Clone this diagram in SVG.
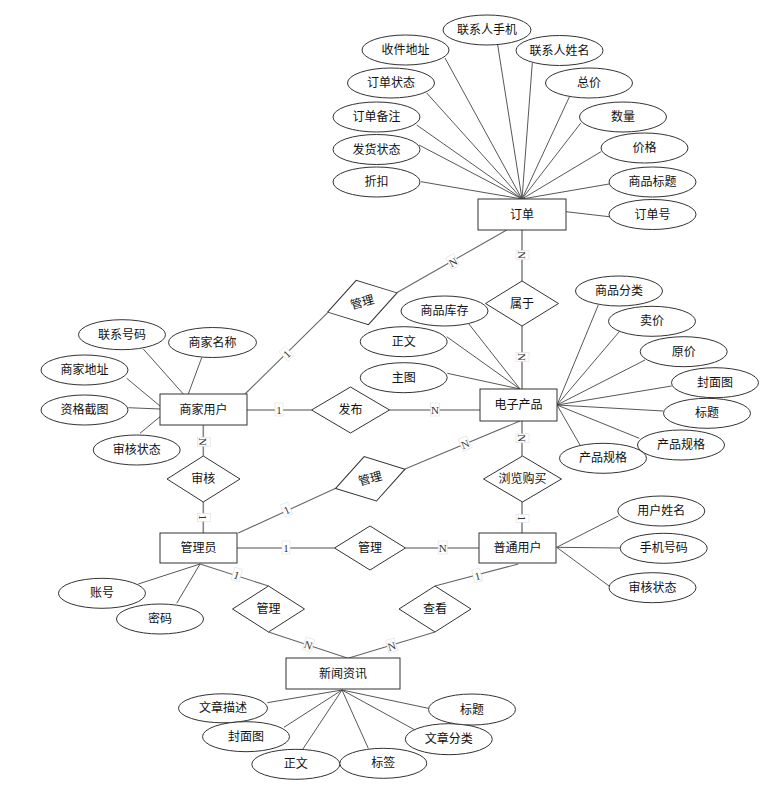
<svg xmlns="http://www.w3.org/2000/svg" width="780" height="793" viewBox="0 0 780 793">
<style>
text{font-family:"Noto Sans CJK SC","Liberation Sans",sans-serif;font-size:12px;fill:#111;text-anchor:middle}
.box{fill:#fff;stroke:#333;stroke-width:1}
.ell{fill:#fff;stroke:#333;stroke-width:1}
.dia{fill:#fff;stroke:#333;stroke-width:1}
.attr line{stroke:#444;stroke-width:0.9}
.rel line{stroke:#666;stroke-width:1.1}
.rel line.hv{stroke:#888;stroke-width:1.6}
.lbl rect{fill:#fff;stroke:#ddd;stroke-width:0.6}
.lbl text{font-family:"Liberation Serif",serif;font-size:11px;fill:#333}
</style>
<rect width="780" height="793" fill="#fff"/>
<g id="connectors">
<g class="attr">
<line x1="445" y1="58" x2="522" y2="199"/>
<line x1="497.7" y1="45" x2="522" y2="199"/>
<line x1="532.3" y1="63" x2="522" y2="199"/>
<line x1="426.7" y1="93" x2="522" y2="199"/>
<line x1="569.3" y1="97" x2="522" y2="199"/>
<line x1="416.7" y1="125" x2="522" y2="199"/>
<line x1="581" y1="122.7" x2="522" y2="199"/>
<line x1="419" y1="145" x2="522" y2="199"/>
<line x1="601" y1="151.7" x2="522" y2="199"/>
<line x1="421" y1="181.7" x2="522" y2="199"/>
<line x1="609" y1="184" x2="522" y2="199"/>
<line x1="566" y1="211.7" x2="609" y2="216.7"/>
<line x1="143.3" y1="349" x2="183.3" y2="394"/>
<line x1="201.7" y1="357.7" x2="188.3" y2="394"/>
<line x1="126.7" y1="378.3" x2="160" y2="406"/>
<line x1="128.3" y1="407.7" x2="160" y2="409"/>
<line x1="140" y1="433.3" x2="160" y2="416.7"/>
<line x1="468.3" y1="323.3" x2="520" y2="389"/>
<line x1="446.7" y1="336.7" x2="520" y2="389"/>
<line x1="447.3" y1="373.3" x2="520" y2="389"/>
<line x1="557" y1="405" x2="598.3" y2="305"/>
<line x1="557" y1="405" x2="620.7" y2="330"/>
<line x1="557" y1="405" x2="645" y2="360"/>
<line x1="557" y1="405" x2="671.7" y2="386"/>
<line x1="557" y1="405" x2="663.3" y2="411"/>
<line x1="557" y1="405" x2="639.3" y2="438.3"/>
<line x1="557" y1="405" x2="580" y2="445"/>
<line x1="200" y1="564" x2="138.3" y2="584"/>
<line x1="200" y1="564" x2="176.7" y2="603.3"/>
<line x1="556.7" y1="547.3" x2="618.3" y2="516"/>
<line x1="556.7" y1="547.3" x2="620" y2="548"/>
<line x1="556.7" y1="547.3" x2="610" y2="586.7"/>
<line x1="342" y1="690" x2="267.3" y2="702.7"/>
<line x1="342" y1="690" x2="284" y2="727.3"/>
<line x1="342" y1="690" x2="302.7" y2="749.3"/>
<line x1="342" y1="690" x2="368.3" y2="748.3"/>
<line x1="342" y1="690" x2="415" y2="730"/>
<line x1="342" y1="690" x2="428.3" y2="708.3"/>
</g>
<g class="rel">
<line x1="506.7" y1="230" x2="396.7" y2="292.7"/>
<line x1="245" y1="394" x2="327.7" y2="312.7"/>
<line class="hv" x1="522" y1="230" x2="522" y2="281"/>
<line class="hv" x1="522" y1="326" x2="522" y2="389"/>
<line class="hv" x1="247" y1="410" x2="311.5" y2="410"/>
<line class="hv" x1="389.5" y1="410" x2="480" y2="410"/>
<line class="hv" x1="203.3" y1="425" x2="203.3" y2="456"/>
<line class="hv" x1="203.3" y1="502" x2="203.3" y2="533"/>
<line x1="238.3" y1="533" x2="335.7" y2="488.3"/>
<line x1="405" y1="469" x2="520" y2="421"/>
<line class="hv" x1="522" y1="421" x2="522" y2="456"/>
<line class="hv" x1="522" y1="502" x2="522" y2="533"/>
<line class="hv" x1="237" y1="548" x2="334.5" y2="548"/>
<line class="hv" x1="405.5" y1="548" x2="479" y2="548"/>
<line x1="200" y1="564" x2="268.5" y2="586"/>
<line x1="518.3" y1="564" x2="435" y2="586"/>
<line x1="268.5" y1="632" x2="348" y2="658.3"/>
<line x1="435" y1="632" x2="348" y2="658.3"/>
</g>
<g class="lbl">
<g transform="translate(453,262) rotate(-29)"><rect x="-4.5" y="-7" width="9" height="13"/><text y="4">N</text></g>
<g transform="translate(286.7,354) rotate(-44)"><rect x="-4" y="-7" width="8" height="13"/><text y="4">1</text></g>
<g transform="translate(522,255) rotate(90)"><rect x="-4.5" y="-7" width="9" height="13"/><text y="4">N</text></g>
<g transform="translate(522,357) rotate(90)"><rect x="-4.5" y="-7" width="9" height="13"/><text y="4">N</text></g>
<g transform="translate(279,410)"><rect x="-4" y="-7" width="8" height="13"/><text y="4">1</text></g>
<g transform="translate(435,410)"><rect x="-4.5" y="-7" width="9" height="13"/><text y="4">N</text></g>
<g transform="translate(203.3,441.7) rotate(90)"><rect x="-4.5" y="-7" width="9" height="13"/><text y="4">N</text></g>
<g transform="translate(203.3,517.3) rotate(90)"><rect x="-4" y="-7" width="8" height="13"/><text y="4">1</text></g>
<g transform="translate(286.7,510) rotate(-24)"><rect x="-4" y="-7" width="8" height="13"/><text y="4">1</text></g>
<g transform="translate(465,444) rotate(-22.7)"><rect x="-4.5" y="-7" width="9" height="13"/><text y="4">N</text></g>
<g transform="translate(522,438.3) rotate(90)"><rect x="-4.5" y="-7" width="9" height="13"/><text y="4">N</text></g>
<g transform="translate(522,518.3) rotate(90)"><rect x="-4" y="-7" width="8" height="13"/><text y="4">1</text></g>
<g transform="translate(286,548)"><rect x="-4" y="-7" width="8" height="13"/><text y="4">1</text></g>
<g transform="translate(442.7,548)"><rect x="-4.5" y="-7" width="9" height="13"/><text y="4">N</text></g>
<g transform="translate(236.7,575) rotate(17.9)"><rect x="-4" y="-7" width="8" height="13"/><text y="4">1</text></g>
<g transform="translate(477.3,576) rotate(-14.8)"><rect x="-4" y="-7" width="8" height="13"/><text y="4">1</text></g>
<g transform="translate(308.3,645) rotate(18.2)"><rect x="-4.5" y="-7" width="9" height="13"/><text y="4">N</text></g>
<g transform="translate(391.7,646) rotate(-17)"><rect x="-4.5" y="-7" width="9" height="13"/><text y="4">N</text></g>
</g>
</g>
<g id="order"><rect class="box" x="478" y="199" width="88" height="31"/><text x="522" y="219">订单</text></g>
<g id="order-addr"><ellipse class="ell" cx="405.5" cy="50" rx="43.5" ry="15"/><text x="405.5" y="54">收件地址</text></g>
<g id="order-phone"><ellipse class="ell" cx="487" cy="30" rx="44" ry="15"/><text x="487" y="34">联系人手机</text></g>
<g id="order-name"><ellipse class="ell" cx="559.5" cy="50.5" rx="43.5" ry="15"/><text x="559.5" y="54.5">联系人姓名</text></g>
<g id="order-status"><ellipse class="ell" cx="391" cy="83" rx="43.5" ry="15"/><text x="391" y="87">订单状态</text></g>
<g id="order-total"><ellipse class="ell" cx="589" cy="83" rx="43.5" ry="15"/><text x="589" y="87">总价</text></g>
<g id="order-note"><ellipse class="ell" cx="376.5" cy="117" rx="43.5" ry="15"/><text x="376.5" y="121">订单备注</text></g>
<g id="order-qty"><ellipse class="ell" cx="623" cy="117" rx="43.5" ry="15"/><text x="623" y="121">数量</text></g>
<g id="order-ship"><ellipse class="ell" cx="376.5" cy="149.5" rx="43.5" ry="15"/><text x="376.5" y="153.5">发货状态</text></g>
<g id="order-price"><ellipse class="ell" cx="644.5" cy="148" rx="43.5" ry="15"/><text x="644.5" y="152">价格</text></g>
<g id="order-discount"><ellipse class="ell" cx="376.5" cy="182" rx="43.5" ry="15"/><text x="376.5" y="186">折扣</text></g>
<g id="order-title"><ellipse class="ell" cx="652.5" cy="182" rx="43.5" ry="15"/><text x="652.5" y="186">商品标题</text></g>
<g id="order-no"><ellipse class="ell" cx="652.5" cy="214.5" rx="43.5" ry="15"/><text x="652.5" y="218.5">订单号</text></g>
<g id="rel-manage1"><polygon class="dia" points="-36,0 0,-23 36,0 0,23" transform="translate(362.3,302.5) rotate(-15.5)"/><text transform="translate(362.3,302.5) rotate(-15.5)" y="4">管理</text></g>
<g id="rel-belong"><polygon class="dia" points="485.5,303.5 522,281 558.5,303.5 522,326"/><text x="522" y="307.5">属于</text></g>
<g id="merchant"><rect class="box" x="160" y="394" width="87" height="31"/><text x="203.5" y="414">商家用户</text></g>
<g id="m-phone"><ellipse class="ell" cx="122" cy="334.7" rx="43.5" ry="15"/><text x="122" y="338.7">联系号码</text></g>
<g id="m-name"><ellipse class="ell" cx="212.5" cy="342.5" rx="44" ry="15"/><text x="212.5" y="346.5">商家名称</text></g>
<g id="m-addr"><ellipse class="ell" cx="84.5" cy="370" rx="43.5" ry="15"/><text x="84.5" y="374">商家地址</text></g>
<g id="m-cert"><ellipse class="ell" cx="84.5" cy="410" rx="43.5" ry="15"/><text x="84.5" y="414">资格截图</text></g>
<g id="m-status"><ellipse class="ell" cx="136.7" cy="450" rx="43.5" ry="15"/><text x="136.7" y="454">审核状态</text></g>
<g id="product"><rect class="box" x="480" y="389" width="77" height="32"/><text x="518.5" y="409">电子产品</text></g>
<g id="p-stock"><ellipse class="ell" cx="444.5" cy="311" rx="43.5" ry="15"/><text x="444.5" y="315">商品库存</text></g>
<g id="p-body"><ellipse class="ell" cx="403.7" cy="341.7" rx="43.5" ry="15"/><text x="403.7" y="345.7">正文</text></g>
<g id="p-img"><ellipse class="ell" cx="403.7" cy="377.7" rx="43.5" ry="15"/><text x="403.7" y="381.7">主图</text></g>
<g id="p-cat"><ellipse class="ell" cx="619" cy="291" rx="43.5" ry="15"/><text x="619" y="295">商品分类</text></g>
<g id="p-sell"><ellipse class="ell" cx="652" cy="321.3" rx="43.5" ry="15"/><text x="652" y="325.3">卖价</text></g>
<g id="p-orig"><ellipse class="ell" cx="683.7" cy="351.7" rx="43.5" ry="15"/><text x="683.7" y="355.7">原价</text></g>
<g id="p-cover"><ellipse class="ell" cx="715" cy="382.7" rx="43.5" ry="15"/><text x="715" y="386.7">封面图</text></g>
<g id="p-title"><ellipse class="ell" cx="707" cy="413.3" rx="43.5" ry="15"/><text x="707" y="417.3">标题</text></g>
<g id="p-spec2"><ellipse class="ell" cx="681" cy="445" rx="43.5" ry="15"/><text x="681" y="449">产品规格</text></g>
<g id="p-spec1"><ellipse class="ell" cx="603" cy="458.3" rx="43.5" ry="15"/><text x="603" y="462.3">产品规格</text></g>
<g id="rel-publish"><polygon class="dia" points="311.5,410 350.5,387 389.5,410 350.5,433"/><text x="350.5" y="414">发布</text></g>
<g id="rel-audit"><polygon class="dia" points="167,479 203.3,456 240,479 203.3,502"/><text x="203.3" y="483">审核</text></g>
<g id="rel-manage2"><polygon class="dia" points="-36,0 0,-23 36,0 0,23" transform="translate(370.3,478.8) rotate(-15.5)"/><text transform="translate(370.3,478.8) rotate(-15.5)" y="4">管理</text></g>
<g id="rel-browse"><polygon class="dia" points="483.5,479 522.5,456 561.5,479 522.5,502"/><text x="522.5" y="483">浏览购买</text></g>
<g id="admin"><rect class="box" x="160" y="533" width="77" height="30"/><text x="198.5" y="552">管理员</text></g>
<g id="a-acct"><ellipse class="ell" cx="102" cy="593.3" rx="43.5" ry="15"/><text x="102" y="597.3">账号</text></g>
<g id="a-pwd"><ellipse class="ell" cx="160" cy="619" rx="43.5" ry="15"/><text x="160" y="623">密码</text></g>
<g id="rel-manage3"><polygon class="dia" points="334.5,548 370,526 405.5,548 370,570"/><text x="370" y="552">管理</text></g>
<g id="user"><rect class="box" x="479" y="533" width="77" height="30"/><text x="517.5" y="552">普通用户</text></g>
<g id="u-name"><ellipse class="ell" cx="661.3" cy="511" rx="43.5" ry="15"/><text x="661.3" y="515">用户姓名</text></g>
<g id="u-phone"><ellipse class="ell" cx="663.7" cy="548.3" rx="43.5" ry="15"/><text x="663.7" y="552.3">手机号码</text></g>
<g id="u-status"><ellipse class="ell" cx="652.5" cy="587.7" rx="43.5" ry="15"/><text x="652.5" y="591.7">审核状态</text></g>
<g id="rel-manage4"><polygon class="dia" points="232.5,609 268.5,586 304.5,609 268.5,632"/><text x="268.5" y="613">管理</text></g>
<g id="rel-view"><polygon class="dia" points="399,609 435,586 471,609 435,632"/><text x="435" y="613">查看</text></g>
<g id="news"><rect class="box" x="286" y="658" width="114" height="31"/><text x="343" y="678">新闻资讯</text></g>
<g id="n-desc"><ellipse class="ell" cx="223" cy="708.3" rx="44.5" ry="14.5"/><text x="223" y="712.3">文章描述</text></g>
<g id="n-cover"><ellipse class="ell" cx="246" cy="736.7" rx="43.5" ry="15"/><text x="246" y="740.7">封面图</text></g>
<g id="n-body"><ellipse class="ell" cx="295.8" cy="764.3" rx="44" ry="15"/><text x="295.8" y="768.3">正文</text></g>
<g id="n-tag"><ellipse class="ell" cx="383.3" cy="763.3" rx="43.5" ry="15"/><text x="383.3" y="767.3">标签</text></g>
<g id="n-cat"><ellipse class="ell" cx="448.8" cy="739.2" rx="43.5" ry="15.5"/><text x="448.8" y="743.2">文章分类</text></g>
<g id="n-title"><ellipse class="ell" cx="472" cy="709.5" rx="43.5" ry="15.5"/><text x="472" y="713.5">标题</text></g>
</svg>
